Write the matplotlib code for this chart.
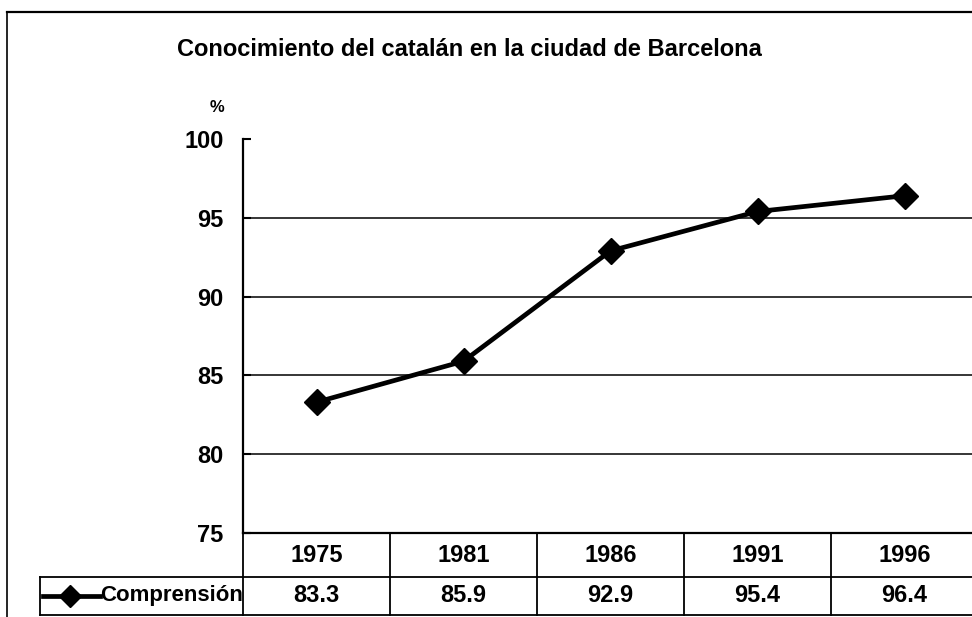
import numpy as np
import matplotlib
matplotlib.use('Agg')
import matplotlib.pyplot as plt
from matplotlib.lines import Line2D
from matplotlib import transforms

years = ['1975', '1981', '1986', '1991', '1996']
comprension = [83.3, 85.9, 92.9, 95.4, 96.4]
serie_label = 'Comprensión'
title = 'Conocimiento del catalán en la ciudad de Barcelona'
yticks = [75, 80, 85, 90, 95, 100]

plt.rcParams['font.family'] = ['Liberation Sans', 'DejaVu Sans']
plt.rcParams['font.weight'] = 'bold'

W, H = 972, 617
fig = plt.figure(figsize=(W / 100, H / 100), dpi=100)

#------------------------------------------------------------
# plot area (pixel positions of the reference, right side runs off the image)
#------------------------------------------------------------
x0, x1, ytop, ybot = 243, 978, 139, 533
ax = fig.add_axes([x0 / W, 1 - ybot / H, (x1 - x0) / W, (ybot - ytop) / H])

xs = np.arange(len(years))
ax.plot(xs, comprension, color='black', linewidth=3.4, marker='D',
        markersize=13, markerfacecolor='black', markeredgecolor='black',
        clip_on=False, zorder=5)

ax.set_xlim(-0.5, len(years) - 0.5)
ax.set_ylim(75, 100)
ax.set_yticks(yticks)
ax.set_yticklabels([str(v) for v in yticks], fontsize=17, fontweight='bold')
ax.tick_params(axis='y', direction='in', length=6, width=1.5, pad=14)
ax.set_xticks([])
for v in yticks[1:-1]:
    ax.axhline(v, color='black', linewidth=1.1, zorder=1)

for side in ['top', 'right']:
    ax.spines[side].set_visible(False)
ax.spines['left'].set_linewidth(1.6)
ax.spines['bottom'].set_linewidth(1.6)

ax.text(-0.025, 1.06, '%', transform=ax.transAxes, ha='right', va='bottom',
        fontsize=12, fontweight='bold')

#------------------------------------------------------------
# data table under the plot
#------------------------------------------------------------
trans = transforms.blended_transform_factory(ax.transData, ax.transAxes)
row1 = -(577 - ybot) / (ybot - ytop)
row2 = -(615 - ybot) / (ybot - ytop)
leg_left = (40 - x0) / (x1 - x0)

line_kw = dict(color='black', linewidth=1.3, clip_on=False)
ax.plot([leg_left, 1], [row1, row1], transform=ax.transAxes, **line_kw)
ax.plot([leg_left, leg_left], [row1, row2], transform=ax.transAxes, **line_kw)
ax.plot([leg_left, 1], [row2, row2], transform=ax.transAxes, **line_kw)
ax.plot([0, 0], [0, row2], transform=ax.transAxes, **line_kw)
for i in range(len(years)):
    xb = i + 0.5
    ax.plot([xb, xb], [0, row2], transform=trans, **line_kw)

for i, (yr, v) in enumerate(zip(years, comprension)):
    ax.text(i, (0 + row1) / 2, yr, transform=trans, ha='center', va='center',
            fontsize=17, fontweight='bold')
    ax.text(i, (row1 + row2) / 2, '%.1f' % v, transform=trans, ha='center',
            va='center', fontsize=17, fontweight='bold')

# legend key inside the row label cell
ymid = (row1 + row2) / 2
key_x = (np.array([43, 100]) - x0) / (x1 - x0)
ax.plot(key_x, [ymid, ymid], transform=ax.transAxes, color='black',
        linewidth=3.4, clip_on=False)
ax.plot([(70 - x0) / (x1 - x0)], [ymid], transform=ax.transAxes, marker='D',
        markersize=11, color='black', clip_on=False)
ax.text((100 - x0) / (x1 - x0), ymid, serie_label, transform=ax.transAxes,
        ha='left', va='center', fontsize=16, fontweight='bold')

#------------------------------------------------------------
# title and chart border
#------------------------------------------------------------
fig.text(469 / W, 1 - 50 / H, title, ha='center', va='center',
         fontsize=17, fontweight='bold')
fig.add_artist(Line2D([7 / W, 7 / W], [0, 1 - 12 / H], color='black', linewidth=1.2))
fig.add_artist(Line2D([7 / W, 1], [1 - 12 / H, 1 - 12 / H], color='black', linewidth=1.6))

fig.savefig('out.png', dpi=100)
